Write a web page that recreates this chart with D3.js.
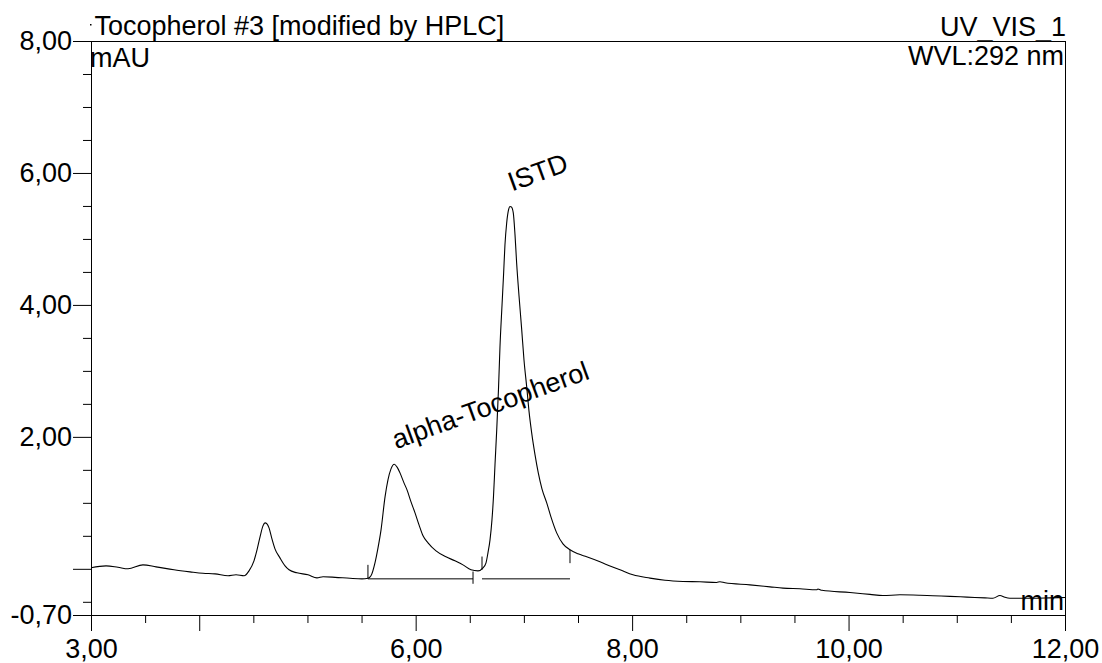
<!DOCTYPE html>
<html lang="en">
<head>
  <meta charset="utf-8">
  <title>Tocopherol #3 chromatogram</title>
  <script src="https://d3js.org/d3.v7.min.js"></script>
  <style>
    body {
      margin: 0;
      background: #fff;
    }
    svg {
      display: block;
      font-family: "Liberation Sans", Arial, sans-serif;
    }
    text {
      font-size: 27px;
      fill: #000;
    }
  </style>
</head>
<body>
  <svg width="1102" height="663"></svg>

  <script>
  // retention time (min) and absorbance (mAU)
  const time = [
    3.000, 3.139, 3.249, 3.342, 3.480, 3.601, 3.767, 3.915, 4.035, 4.146,
    4.266, 4.340, 4.414, 4.460, 4.506, 4.534, 4.562, 4.589, 4.608, 4.626,
    4.645, 4.672, 4.700, 4.746, 4.793, 4.830, 4.903, 5.005, 5.088, 5.144,
    5.255, 5.393, 5.504, 5.559, 5.587, 5.624, 5.652, 5.680, 5.717, 5.744,
    5.772, 5.802, 5.827, 5.855, 5.892, 5.920, 5.957, 5.994, 6.031, 6.068,
    6.114, 6.188, 6.280, 6.363, 6.437, 6.511, 6.576, 6.622, 6.650, 6.668,
    6.687, 6.705, 6.719, 6.733, 6.749, 6.765, 6.779, 6.798, 6.812, 6.825,
    6.841, 6.858, 6.872, 6.885, 6.902, 6.918, 6.933, 6.955, 6.980, 7.001,
    7.026, 7.047, 7.072, 7.103, 7.133, 7.167, 7.211, 7.250, 7.303, 7.361,
    7.426, 7.500, 7.580, 7.703, 7.814, 7.888, 8.008, 8.165, 8.304, 8.470,
    8.627, 8.781, 8.812, 8.858, 9.089, 9.274, 9.394, 9.551, 9.705, 9.717,
    9.754, 10.013, 10.198, 10.318, 10.475, 10.660, 10.780, 10.937, 11.094, 11.261,
    11.334, 11.399, 11.445, 11.491, 11.704, 11.861, 12.000
  ];
  const signal = [
    0.015, 0.045, 0.023, 0.000, 0.060, 0.030, -0.015, -0.046, -0.068, -0.076,
    -0.106, -0.091, -0.106, -0.031, 0.121, 0.288, 0.485, 0.651, 0.697, 0.682,
    0.621, 0.454, 0.303, 0.166, 0.045, -0.015, -0.061, -0.091, -0.137, -0.121,
    -0.129, -0.144, -0.152, -0.144, -0.106, 0.091, 0.318, 0.591, 1.091, 1.348,
    1.515, 1.586, 1.545, 1.454, 1.303, 1.197, 1.015, 0.848, 0.666, 0.500,
    0.394, 0.272, 0.182, 0.121, 0.060, -0.015, -0.031, 0.015, 0.091, 0.242,
    0.439, 0.742, 1.091, 1.576, 2.106, 2.712, 3.363, 4.000, 4.454, 4.909,
    5.242, 5.439, 5.492, 5.485, 5.394, 5.061, 4.636, 4.136, 3.621, 3.166,
    2.757, 2.394, 2.060, 1.727, 1.454, 1.212, 1.000, 0.788, 0.545, 0.379,
    0.288, 0.227, 0.182, 0.106, 0.030, -0.015, -0.091, -0.141, -0.174, -0.192,
    -0.197, -0.208, -0.195, -0.212, -0.243, -0.273, -0.293, -0.303, -0.318, -0.305,
    -0.326, -0.359, -0.387, -0.405, -0.394, -0.401, -0.409, -0.417, -0.429, -0.440,
    -0.445, -0.405, -0.432, -0.445, -0.445, -0.440, -0.435
  ];

  // named peaks: label, apex time, apex height
  const peakNames = ["alpha-Tocopherol", "ISTD"];
  const peakTimes = [5.802, 6.872];
  const peakHeights = [1.586, 5.492];

  // integration baselines and delimiter marks
  const baseStart = [5.559, 6.613];
  const baseEnd = [6.530, 7.426];
  const baseLevel = [-0.152, -0.152];
  const startMark = [[0.060, -0.152], [0.186, -0.015]];
  const endMark = [[-0.041, -0.227], [0.288, 0.086]];

  const xMajor = [3, 4, 6, 8, 10, 12];
  const xLabelled = [3, 6, 8, 10, 12];
  const yMajor = [-0.7, 0, 2, 4, 6, 8];
  const yLabelled = [-0.7, 2, 4, 6, 8];

  const svg = d3.select("svg");
  const plotLeft = 91, plotRight = 1065, plotTop = 41, plotBottom = 615;

  const x = d3.scaleLinear().domain([3, 12]).range([plotLeft, plotRight]);
  const y = d3.scaleLinear().domain([-0.7, 8]).range([plotBottom, plotTop]);

  const fmt = d3.formatLocale({decimal: ",", thousands: ".", grouping: [3], currency: ["", ""], minus: "-"}).format(".2f");

  const xMinor = d3.range(3, 12.01, 0.5).filter(d => !xMajor.includes(d));
  const yMinor = d3.range(-0.5, 8, 0.5).filter(d => !yMajor.includes(d));

  // frame
  svg.append("rect")
    .attr("x", plotLeft + 0.5).attr("y", plotTop + 0.5)
    .attr("width", plotRight - plotLeft).attr("height", plotBottom - plotTop)
    .attr("fill", "none").attr("stroke", "#000").attr("stroke-width", 1);

  // x axis
  svg.append("g")
    .attr("transform", `translate(0,${plotBottom})`)
    .call(d3.axisBottom(x).tickValues(xMinor).tickSize(8).tickSizeOuter(0).tickFormat(""))
    .call(g => g.select(".domain").remove());
  svg.append("g")
    .attr("transform", `translate(0,${plotBottom})`)
    .call(d3.axisBottom(x).tickValues(xMajor).tickSize(16).tickSizeOuter(0).tickPadding(8)
      .tickFormat(d => xLabelled.includes(d) ? fmt(d) : ""))
    .call(g => g.select(".domain").remove());

  // y axis
  svg.append("g")
    .attr("transform", `translate(${plotLeft},0)`)
    .call(d3.axisLeft(y).tickValues(yMinor).tickSize(8).tickSizeOuter(0).tickFormat(""))
    .call(g => g.select(".domain").remove());
  svg.append("g")
    .attr("transform", `translate(${plotLeft},0)`)
    .call(d3.axisLeft(y).tickValues(yMajor).tickSize(18).tickSizeOuter(0).tickPadding(1)
      .tickFormat(d => yLabelled.includes(d) ? fmt(d) : ""))
    .call(g => g.select(".domain").remove());

  svg.selectAll(".tick line").attr("stroke", "#000");
  svg.selectAll(".tick text")
    .attr("font-size", 27)
    .attr("font-family", "'Liberation Sans', Arial, sans-serif")
    .attr("fill", "#000");

  // header texts
  svg.append("rect").attr("x", 90).attr("y", 24).attr("width", 1.5).attr("height", 1.5).attr("fill", "#000");
  svg.append("text").attr("x", 94.5).attr("y", 35).text("Tocopherol #3 [modified by HPLC]");
  svg.append("text").attr("x", 90).attr("y", 67).text("mAU");
  svg.append("text").attr("x", 1066).attr("y", 36).attr("text-anchor", "end").text("UV_VIS_1");
  svg.append("text").attr("x", 1064).attr("y", 65).attr("text-anchor", "end").text("WVL:292 nm");
  svg.append("text").attr("x", 1064).attr("y", 610).attr("text-anchor", "end").text("min");

  // integration baselines
  const marks = svg.append("g").attr("stroke", "#000").attr("stroke-width", 1);
  baseStart.forEach((s, i) => {
    marks.append("line")
      .attr("x1", x(s)).attr("x2", x(baseEnd[i]))
      .attr("y1", y(baseLevel[i])).attr("y2", y(baseLevel[i]));
    marks.append("line")
      .attr("x1", x(s)).attr("x2", x(s))
      .attr("y1", y(startMark[i][0])).attr("y2", y(startMark[i][1]));
    marks.append("line")
      .attr("x1", x(baseEnd[i])).attr("x2", x(baseEnd[i]))
      .attr("y1", y(endMark[i][0])).attr("y2", y(endMark[i][1]));
  });

  // chromatogram trace
  const trace = d3.line()
    .x((d, i) => x(time[i]))
    .y(d => y(d))
    .curve(d3.curveMonotoneX);

  svg.append("path")
    .datum(signal)
    .attr("d", trace)
    .attr("fill", "none")
    .attr("stroke", "#000")
    .attr("stroke-width", 1.1);

  // peak labels
  peakNames.forEach((name, i) => {
    const px = x(peakTimes[i]) + 2, py = y(peakHeights[i]) - 15;
    svg.append("text")
      .attr("transform", `translate(${px},${py}) rotate(-20)`)
      .text(name);
  });
  </script>
</body>
</html>
